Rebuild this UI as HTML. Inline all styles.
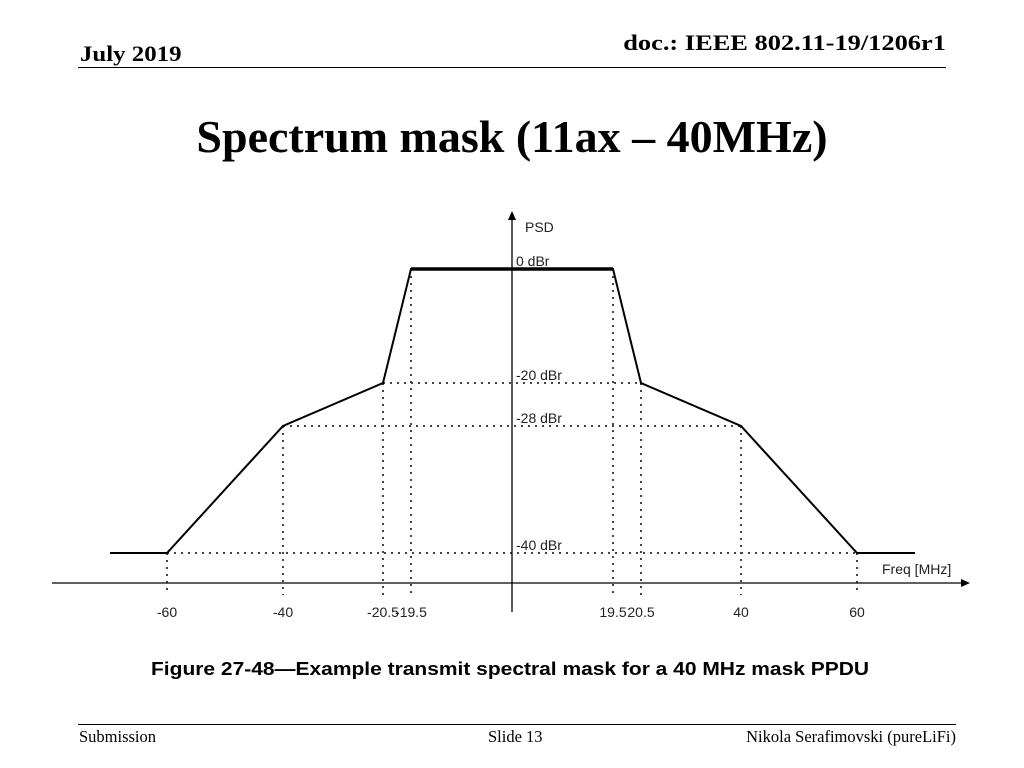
<!DOCTYPE html>
<html><head><meta charset="utf-8"><style>
body{margin:0;background:#fff;width:1024px;height:768px;overflow:hidden;position:relative;font-family:"Liberation Serif",serif}
.a{position:absolute;white-space:nowrap}
</style></head><body>
<div class="a" style="left:80px;top:41px;font-size:22px;font-weight:bold;transform:scaleX(1.13);transform-origin:left top">July 2019</div>
<div class="a" style="right:78px;top:30px;font-size:22px;font-weight:bold;transform:scaleX(1.2);transform-origin:right top">doc.: IEEE 802.11-19/1206r1</div>
<div class="a" style="left:78px;top:67px;width:868px;height:1px;background:#000"></div>
<div class="a" style="left:0;width:1024px;text-align:center;top:110px;font-size:46px;font-weight:bold">Spectrum mask (11ax – 40MHz)</div>
<svg class="a" style="left:0;top:0" width="1024" height="768" font-family="Liberation Sans, sans-serif">
<g id="g"></g>
<text x="151" y="675" font-size="18.5" font-weight="bold" textLength="718" lengthAdjust="spacingAndGlyphs">Figure 27-48—Example transmit spectral mask for a 40 MHz mask PPDU</text>
</svg>
<div class="a" style="left:78px;top:724px;width:878px;height:1px;background:#000"></div>
<div class="a" style="left:79px;top:727px;font-size:16.5px">Submission</div>
<div class="a" style="left:488px;top:727px;font-size:16.5px">Slide 13</div>
<div class="a" style="right:68px;top:727px;font-size:16.5px">Nikola Serafimovski (pureLiFi)</div>
<script>
const freqs=[-70,-60,-40,-20.5,-19.5,19.5,20.5,40,60,70];
const levels=[-40,-40,-28,-20,0,0,-20,-28,-40,-40];
const freqTicks=[-60,-40,-20.5,-19.5,19.5,20.5,40,60];
const dbrTicks=[0,-20,-28,-40];
// axis scale definitions (schematic, piecewise)
const xd=[-70,-60,-40,-20.5,-19.5,19.5,20.5,40,60,70],xr=[110,167,283,383,411,613,641,741,857,915];
const yd=[0,-20,-28,-40],yr=[269,383,426,553];
function pw(v,d,r){for(let i=0;i<d.length-1;i++){const a=d[i],b=d[i+1];if((v-a)*(v-b)<=0&&a!==b)return r[i]+(v-a)/(b-a)*(r[i+1]-r[i]);}
 const n=d.length;if(Math.abs(v-d[0])<Math.abs(v-d[n-1])){return r[0]+(v-d[0])/(d[1]-d[0])*(r[1]-r[0]);}return r[n-1]+(v-d[n-1])/(d[n-1]-d[n-2])*(r[n-1]-r[n-2]);}
const X=v=>pw(v,xd,xr),Y=v=>pw(v,yd,yr);
const g=document.getElementById('g'),NS='http://www.w3.org/2000/svg';
function mk(t,at,txt){const e=document.createElementNS(NS,t);for(const k in at)e.setAttribute(k,at[k]);if(txt!==undefined)e.textContent=txt;g.appendChild(e);return e;}
const AX=583;
for(let i=1;i<freqs.length-1;i++){const e=mk('line',{x1:X(freqs[i]),x2:X(freqs[i]),y1:Y(levels[i]),y2:AX+12,stroke:'#444','stroke-width':2,'stroke-dasharray':'2 5'});

}
for(const d of dbrTicks.slice(1)){const xs=freqs.filter((f,i)=>levels[i]===d&&Math.abs(f)<70);const e=mk('line',{x1:X(Math.min(...xs)),x2:X(Math.max(...xs)),y1:Y(d),y2:Y(d),stroke:'#444','stroke-width':2,'stroke-dasharray':'2 5'});

}
let e=mk('line',{x1:52,x2:965,y1:AX,y2:AX,stroke:'#000','stroke-width':1.3});


e=mk('path',{d:`M970 ${AX} l-9 -4 v8z`,fill:'#000'});


e=mk('line',{x1:512,x2:512,y1:216,y2:612,stroke:'#000','stroke-width':1.3});


e=mk('path',{d:'M512 211 l-4 9 h8z',fill:'#000'});


e=mk('polyline',{points:freqs.map((f,i)=>X(f)+','+Y(levels[i])).join(' '),fill:'none',stroke:'#000','stroke-width':2});


const topF=freqs.filter((f,i)=>levels[i]===0);
e=mk('line',{x1:X(topF[0]),x2:X(topF[topF.length-1]),y1:Y(0),y2:Y(0),stroke:'#000','stroke-width':3.5});


for(const f of freqTicks){e=mk('text',{x:X(f),y:617,'font-size':14,'text-anchor':'middle',fill:'#222'},String(f));

}
for(const d of dbrTicks){e=mk('text',{x:516,y:Y(d)-3,'font-size':14,fill:'#222'},d+' dBr');

}
e=mk('text',{x:525,y:232,'font-size':14,fill:'#222'},'PSD');


e=mk('text',{x:882,y:574,'font-size':14,fill:'#222'},'Freq [MHz]');


</script>
</body></html>
